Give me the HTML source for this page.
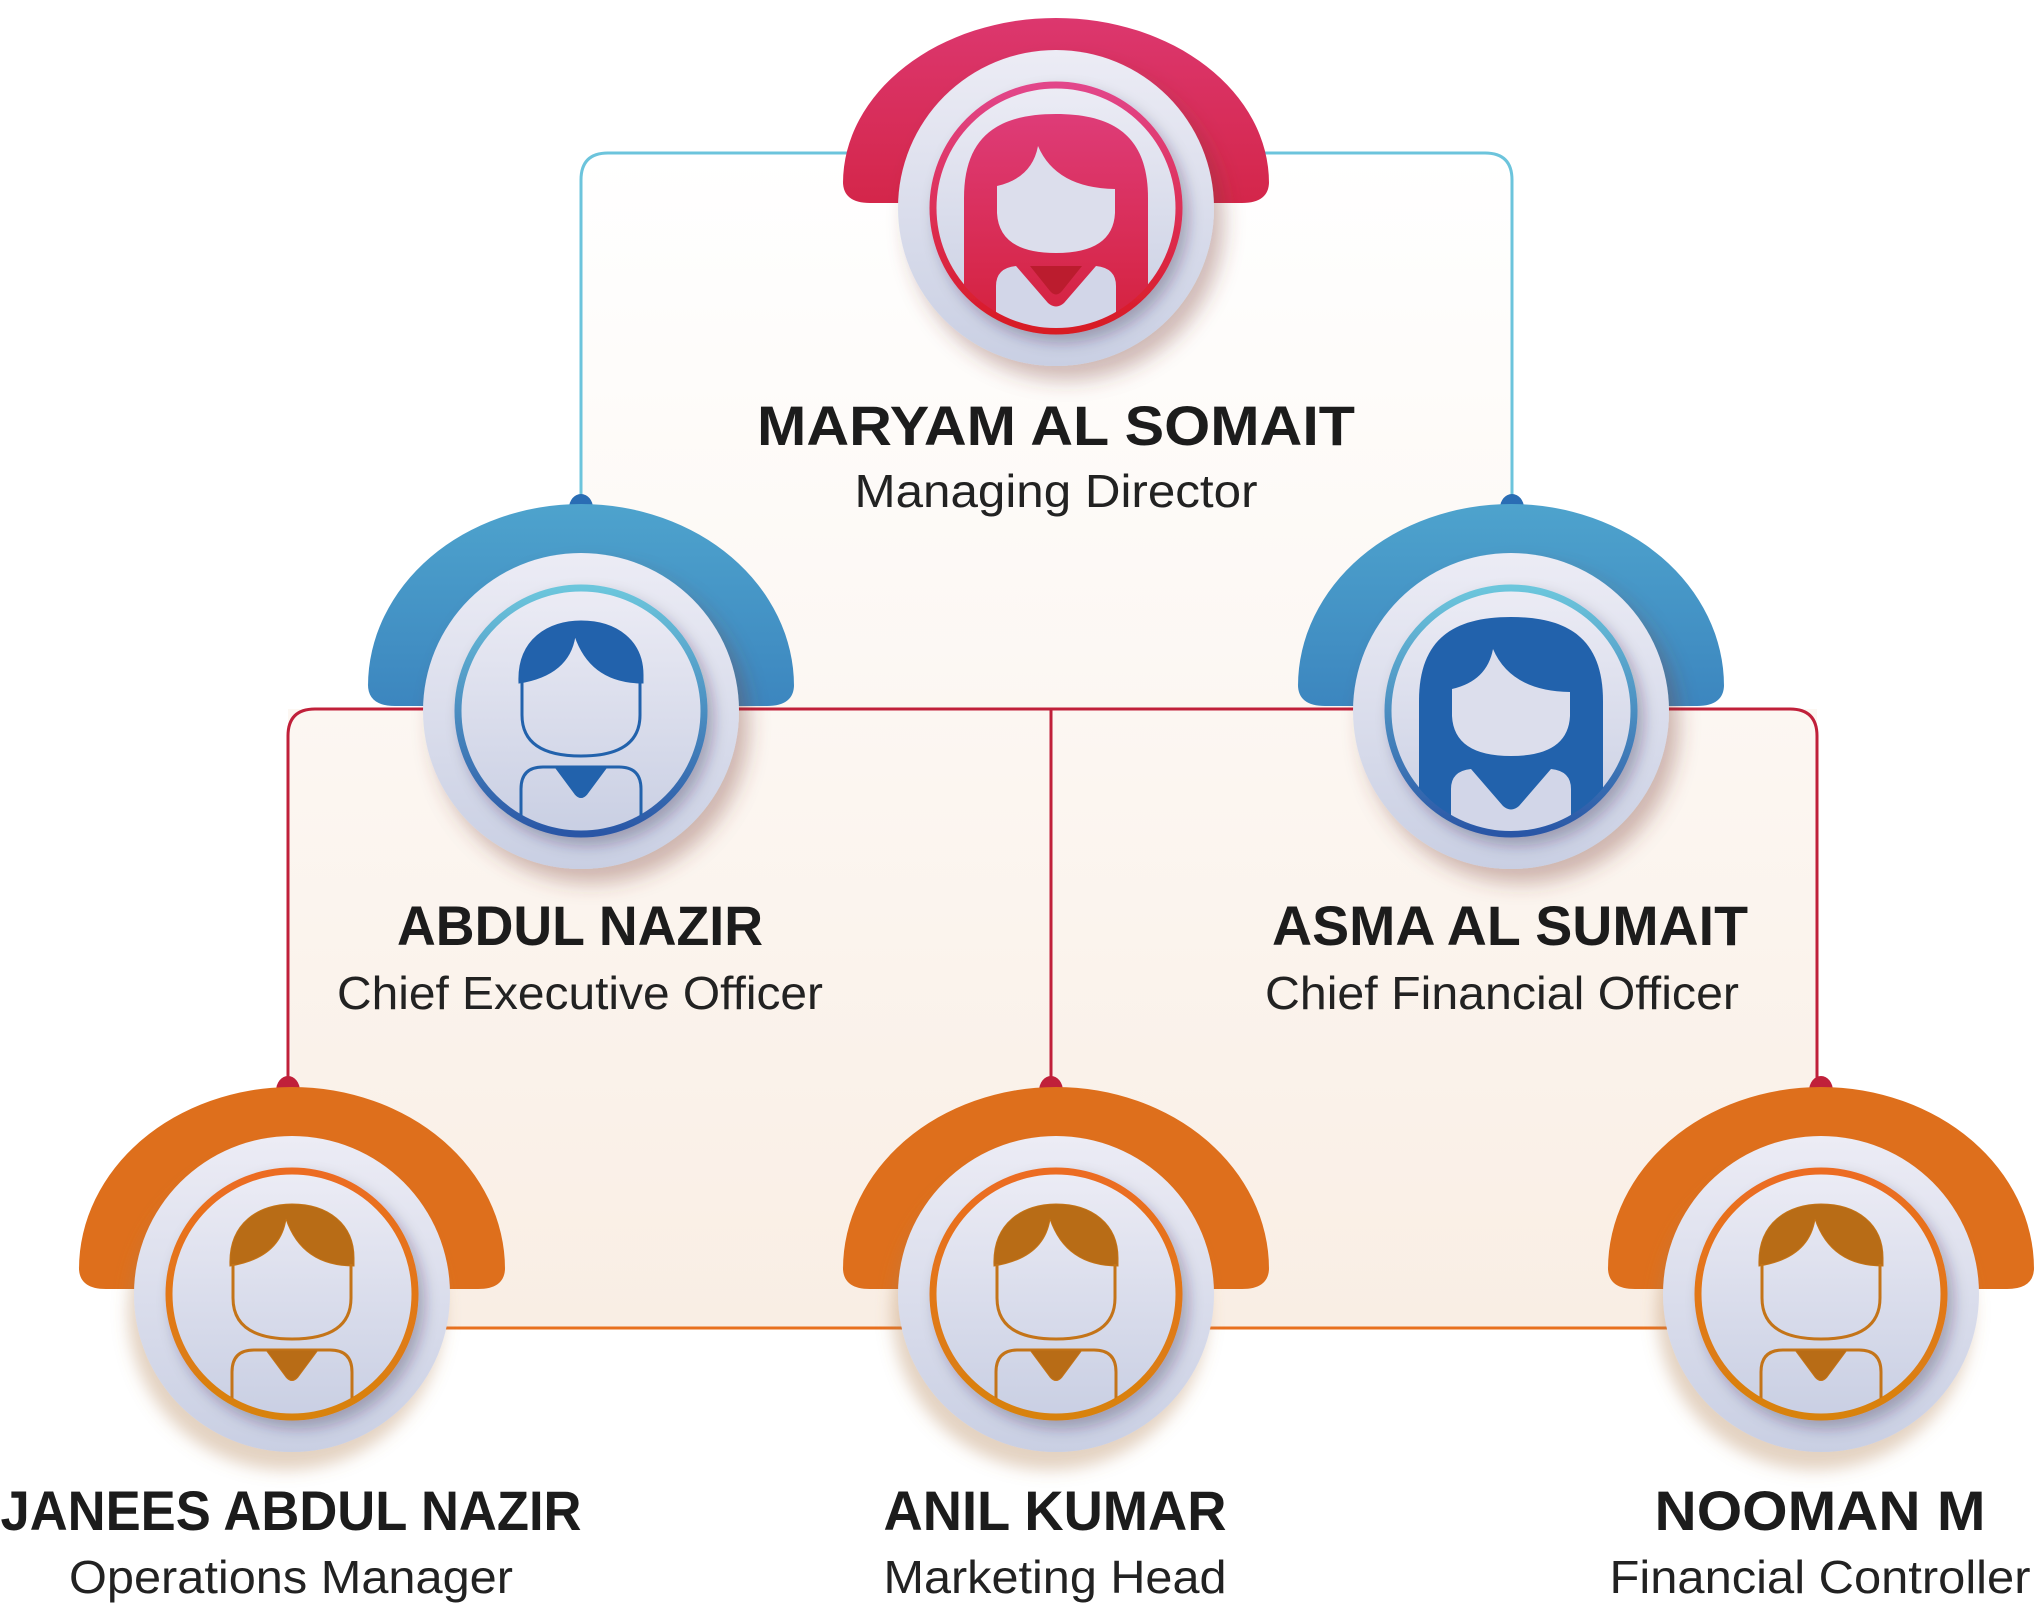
<!DOCTYPE html>
<html><head><meta charset="utf-8"><style>
html,body{margin:0;padding:0;background:#fff;}
svg{display:block;}
.nm{font-family:"Liberation Sans",sans-serif;font-weight:bold;fill:#1c1c1c;}
.tt{font-family:"Liberation Sans",sans-serif;fill:#222;}
</style></head><body>
<svg width="2035" height="1605" viewBox="0 0 2035 1605" xmlns="http://www.w3.org/2000/svg">
<defs>
<linearGradient id="bg" x1="0" y1="0" x2="0" y2="1">
<stop offset="0" stop-color="#ffffff"/><stop offset="1" stop-color="#f9eee4"/></linearGradient>
<linearGradient id="disc" x1="0" y1="0" x2="0" y2="1">
<stop offset="0" stop-color="#ececf5"/><stop offset="1" stop-color="#c9cfe3"/></linearGradient>
<linearGradient id="rR" x1="0" y1="0" x2="0" y2="1"><stop offset="0" stop-color="#e2468a"/><stop offset="1" stop-color="#d81a24"/></linearGradient>
<linearGradient id="rB" x1="0" y1="0" x2="0" y2="1"><stop offset="0" stop-color="#6cc6dc"/><stop offset="1" stop-color="#2a56a6"/></linearGradient>
<linearGradient id="rO" x1="0" y1="0" x2="0" y2="1"><stop offset="0" stop-color="#ec6c22"/><stop offset="1" stop-color="#d8820e"/></linearGradient>
<linearGradient id="hR" x1="0" y1="0" x2="0" y2="1"><stop offset="0" stop-color="#dc376e"/><stop offset="1" stop-color="#d4264a"/></linearGradient>
<linearGradient id="hB" x1="0" y1="0" x2="0" y2="1"><stop offset="0" stop-color="#4ea3cd"/><stop offset="1" stop-color="#3c86bf"/></linearGradient>
<linearGradient id="fR" x1="0" y1="0" x2="0" y2="1"><stop offset="0" stop-color="#de3c78"/><stop offset="1" stop-color="#d4203a"/></linearGradient>
<filter id="sh" x="-50%" y="-50%" width="200%" height="200%"><feDropShadow dx="10" dy="14" stdDeviation="10" flood-color="#7a3a30" flood-opacity="0.35"/></filter>
<filter id="shO" x="-50%" y="-50%" width="200%" height="200%"><feDropShadow dx="-6" dy="18" stdDeviation="8" flood-color="#b08050" flood-opacity="0.35"/></filter>
<filter id="sh2" x="-50%" y="-50%" width="200%" height="200%"><feDropShadow dx="6" dy="8" stdDeviation="7" flood-color="#2a2040" flood-opacity="0.3"/></filter>
<clipPath id="cl"><circle cx="0" cy="0" r="120"/></clipPath>
<path id="halo" d="M -213,-25 A 213 182 0 0 1 213,-25 L 213,-28 Q 214,-5 186,-5 L -186,-5 Q -214,-5 -213,-28 Z"/>
<path id="haloT" d="M -213,-25 A 213 165 0 0 1 213,-25 L 213,-28 Q 214,-5 186,-5 L -186,-5 Q -214,-5 -213,-28 Z"/>
<g id="male">
 <path d="M -62,-28 C -64,-72 -32,-90 0,-90 C 36,-90 62,-70 62,-36 L 62,-28 Q 10,-28 -6,-75 Q -12,-36 -62,-28 Z"/>
 <path d="M -59,-30 L -59,4 Q -59,45 0,45 Q 59,45 59,4 L 59,-30" fill="none" stroke-width="3"/>
 <g clip-path="url(#cl)">
 <path d="M -60,130 L -60,78 Q -60,56 -38,56 L 38,56 Q 60,56 60,78 L 60,130" fill="none" stroke-width="3"/>
 <path d="M -26,56 L 26,56 L 6,83 Q 0,90 -6,83 Z"/></g>
</g>
<g id="female">
 <g clip-path="url(#cl)">
 <path d="M -92,130 L -92,-10 C -92,-70 -60,-94 0,-94 C 60,-94 92,-70 92,-10 L 92,130 Z"/>
 <path d="M -59,-22 Q -24,-30 -18,-62 Q 0,-20 59,-19 L 59,5 Q 57,45 0,45 Q -57,45 -59,5 Z" fill="#dcdeec"/>
 <path d="M -60,130 L -60,78 Q -60,60 -40,58 L -8,95 Q 0,102 8,95 L 40,58 Q 60,60 60,78 L 60,130 Z" fill="#d2d6e8"/>
 </g>
</g>
</defs>

<path d="M 581,153 L 1512,153 L 1512,709 L 1817,709 L 1817,1328 L 292,1328 L 288,709 L 581,709 Z" fill="url(#bg)"/>

<path d="M 581,500 L 581,180 Q 581,153 608,153 L 1485,153 Q 1512,153 1512,180 L 1512,500" fill="none" stroke="#6cc4dc" stroke-width="3"/>
<path d="M 288,1080 L 288,736 Q 288,709 315,709 L 1790,709 Q 1817,709 1817,736 L 1817,1080" fill="none" stroke="#c0203a" stroke-width="3"/>
<path d="M 1051,709 L 1051,1080" stroke="#c0203a" stroke-width="3"/>
<path d="M 292,1328 L 1821,1328" stroke="#e8701e" stroke-width="3"/>
<path d="M 569,508 A 12 14 0 0 1 593,508 Z" fill="#2a6db4"/>
<path d="M 1500,508 A 12 14 0 0 1 1524,508 Z" fill="#2a6db4"/>
<path d="M 276,1091 A 12 15 0 0 1 300,1091 Z" fill="#c0203a"/>
<path d="M 1039,1091 A 12 15 0 0 1 1063,1091 Z" fill="#c0203a"/>
<path d="M 1809,1091 A 12 15 0 0 1 1833,1091 Z" fill="#c0203a"/>

<g transform="translate(1056,208)">
 <use href="#haloT" fill="url(#hR)"/>
 <circle r="158" fill="url(#disc)" filter="url(#sh)"/>
 <circle r="123" fill="url(#disc)" stroke="url(#rR)" stroke-width="7" filter="url(#sh2)"/>
 <use href="#female" fill="url(#fR)"/>
 <path d="M -26,58 L 26,58 L 6,83 Q 0,90 -6,83 Z" fill="#bb1c2e"/>
</g>
<g transform="translate(581,711)">
 <use href="#halo" fill="url(#hB)"/>
 <circle r="158" fill="url(#disc)" filter="url(#sh)"/>
 <circle r="123" fill="url(#disc)" stroke="url(#rB)" stroke-width="7" filter="url(#sh2)"/>
 <use href="#male" fill="#2262ac" stroke="#2262ac"/>
</g>
<g transform="translate(1511,711)">
 <use href="#halo" fill="url(#hB)"/>
 <circle r="158" fill="url(#disc)" filter="url(#sh)"/>
 <circle r="123" fill="url(#disc)" stroke="url(#rB)" stroke-width="7" filter="url(#sh2)"/>
 <use href="#female" fill="#2262ac"/>
</g>
<g transform="translate(292,1294)">
 <use href="#halo" fill="#de6f1c"/>
 <circle r="158" fill="url(#disc)" filter="url(#shO)"/>
 <circle r="123" fill="url(#disc)" stroke="url(#rO)" stroke-width="7" filter="url(#sh2)"/>
 <use href="#male" fill="#b86c16" stroke="#c47418"/>
</g>
<g transform="translate(1056,1294)">
 <use href="#halo" fill="#de6f1c"/>
 <circle r="158" fill="url(#disc)" filter="url(#shO)"/>
 <circle r="123" fill="url(#disc)" stroke="url(#rO)" stroke-width="7" filter="url(#sh2)"/>
 <use href="#male" fill="#b86c16" stroke="#c47418"/>
</g>
<g transform="translate(1821,1294)">
 <use href="#halo" fill="#de6f1c"/>
 <circle r="158" fill="url(#disc)" filter="url(#shO)"/>
 <circle r="123" fill="url(#disc)" stroke="url(#rO)" stroke-width="7" filter="url(#sh2)"/>
 <use href="#male" fill="#b86c16" stroke="#c47418"/>
</g>

<text class="nm" x="1056" y="445" font-size="56" text-anchor="middle" textLength="598" lengthAdjust="spacingAndGlyphs">MARYAM AL SOMAIT</text>
<text class="tt" x="1056" y="507" font-size="46" text-anchor="middle" textLength="403" lengthAdjust="spacingAndGlyphs">Managing Director</text>
<text class="nm" x="580" y="945" font-size="56" text-anchor="middle" textLength="366" lengthAdjust="spacingAndGlyphs">ABDUL NAZIR</text>
<text class="tt" x="580" y="1009" font-size="46" text-anchor="middle" textLength="486" lengthAdjust="spacingAndGlyphs">Chief Executive Officer</text>
<text class="nm" x="1510" y="945" font-size="56" text-anchor="middle" textLength="476" lengthAdjust="spacingAndGlyphs">ASMA AL SUMAIT</text>
<text class="tt" x="1502" y="1009" font-size="46" text-anchor="middle" textLength="474" lengthAdjust="spacingAndGlyphs">Chief Financial Officer</text>
<text class="nm" x="291" y="1530" font-size="56" text-anchor="middle" textLength="581" lengthAdjust="spacingAndGlyphs">JANEES ABDUL NAZIR</text>
<text class="tt" x="291" y="1593" font-size="46" text-anchor="middle" textLength="444" lengthAdjust="spacingAndGlyphs">Operations Manager</text>
<text class="nm" x="1055" y="1530" font-size="56" text-anchor="middle" textLength="343" lengthAdjust="spacingAndGlyphs">ANIL KUMAR</text>
<text class="tt" x="1055" y="1593" font-size="46" text-anchor="middle" textLength="343" lengthAdjust="spacingAndGlyphs">Marketing Head</text>
<text class="nm" x="1820" y="1530" font-size="56" text-anchor="middle" textLength="331" lengthAdjust="spacingAndGlyphs">NOOMAN M</text>
<text class="tt" x="1820" y="1593" font-size="46" text-anchor="middle" textLength="421" lengthAdjust="spacingAndGlyphs">Financial Controller</text>
</svg>
</body></html>
